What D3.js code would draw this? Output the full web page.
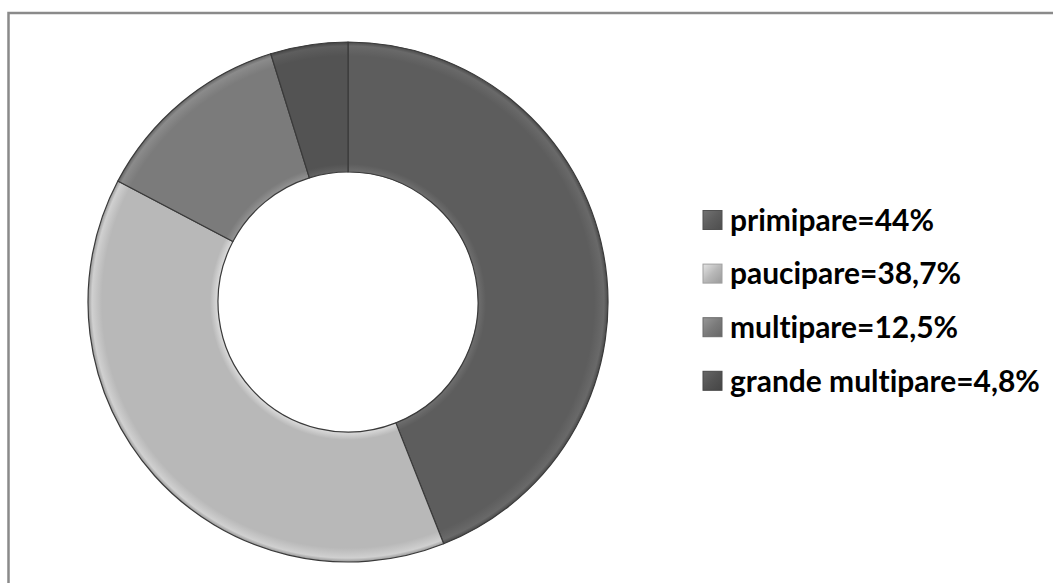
<!DOCTYPE html>
<html><head><meta charset="utf-8">
<script src="https://cdn.jsdelivr.net/npm/d3@7"></script>
<style>body{margin:0;background:#fff}svg{display:block}text{font-variant-ligatures:none;font-feature-settings:"liga" 0}</style>
</head><body>
<svg id="chart" width="1053" height="583"></svg>
<script>
const categories = ["primipare", "paucipare", "multipare", "grande multipare"];
const values = [44, 38.7, 12.5, 4.8];
const labels = ["primipare=44%", "paucipare=38,7%", "multipare=12,5%", "grande multipare=4,8%"];
const colors = ["#5d5d5d", "#b8b8b8", "#7b7b7b", "#535353"];

const svg = d3.select("#chart");
svg.append("rect").attr("x", 8.5).attr("y", 13).attr("width", 1060).attr("height", 600)
  .attr("fill", "#fff").attr("stroke", "#8a8a8a").attr("stroke-width", 2.5);

const cx = 348, cy = 302, R = 260, r = 130;
const defs = svg.append("defs");
colors.forEach((c, i) => {
  const g = defs.append("radialGradient").attr("id", "g" + i)
    .attr("gradientUnits", "userSpaceOnUse").attr("cx", 0).attr("cy", 0).attr("r", R);
  const base = d3.color(c);
  g.append("stop").attr("offset", r / R).attr("stop-color", base.brighter(0.5));
  g.append("stop").attr("offset", (r + 8) / R).attr("stop-color", base);
  g.append("stop").attr("offset", (R - 14) / R).attr("stop-color", base);
  g.append("stop").attr("offset", (R - 4) / R).attr("stop-color", base.brighter(0.35));
  g.append("stop").attr("offset", 1).attr("stop-color", base.darker(0.6));
  const lg = defs.append("linearGradient").attr("id", "l" + i)
    .attr("x1", 0).attr("y1", 0).attr("x2", 1).attr("y2", 1);
  lg.append("stop").attr("offset", 0).attr("stop-color", base.brighter(0.6));
  lg.append("stop").attr("offset", 0.5).attr("stop-color", base);
  lg.append("stop").attr("offset", 1).attr("stop-color", base.darker(0.5));
});

const pie = d3.pie().sort(null).value(d => d);
const arc = d3.arc().innerRadius(r).outerRadius(R);
const g = svg.append("g").attr("transform", `translate(${cx},${cy})`);
g.selectAll("path").data(pie(values)).join("path")
  .attr("d", arc).attr("fill", (d, i) => `url(#g${i})`)
  .attr("stroke", "#3a3a3a").attr("stroke-width", 1.2).attr("stroke-linejoin", "round");

const legend = svg.append("g");
const y0 = 220, dy = 53.6;
categories.forEach((c, i) => {
  const y = y0 + i * dy;
  legend.append("rect").attr("x", 703).attr("y", y - 9.5).attr("width", 19).attr("height", 19)
    .attr("fill", `url(#l${i})`).attr("stroke", d3.color(colors[i]).darker(0.4)).attr("stroke-width", 1);
  legend.append("text").attr("x", 730).attr("y", y).attr("dy", "0.36em")
    .attr("font-family", "Lato, sans-serif").attr("font-weight", "bold")
    .attr("font-size", 22).attr("fill", "#000").text(labels[i]);
});
const texts = legend.selectAll("text").nodes();
const longest = texts[3].getComputedTextLength();
const fs = 22 * 310 / longest;
legend.selectAll("text").attr("font-size", fs);
</script>
</body></html>
